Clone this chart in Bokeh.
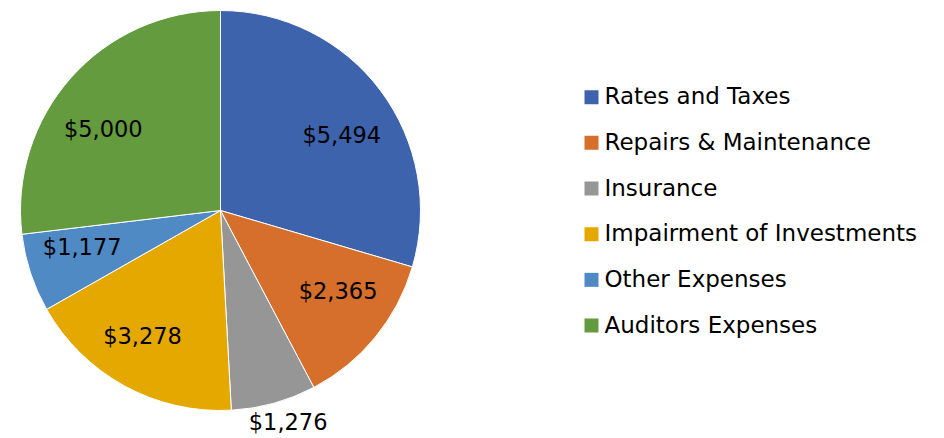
import math
from bokeh.plotting import figure
from bokeh.models import Range1d, ColumnDataSource
from bokeh.core.properties import value
from bokeh.embed import file_html
from bokeh.resources import INLINE

categories = ["Rates and Taxes", "Repairs & Maintenance", "Insurance",
              "Impairment of Investments", "Other Expenses", "Auditors Expenses"]
amounts = [5494, 2365, 1276, 3278, 1177, 5000]
labels = ["$5,494", "$2,365", "$1,276", "$3,278", "$1,177", "$5,000"]
colors = ["#3E63AD", "#D56F2B", "#969696", "#E5A800", "#4F8AC4", "#649B3E"]

# layout (image pixel coordinates, y negated)
W, H = 944, 438
CX, CY, R = 220, -210, 200
label_r = [0.712, 0.715, 1.115, 0.745, 0.716, 0.711]      # label distance / radius
label_shift = [5.2, -4.6, -2.2, 2.9, 3.2, -7.1]            # best-fit angle nudge (deg)
FONT = "DejaVu Sans"

p = figure(width=W, height=H, output_backend="svg", toolbar_location=None,
           x_range=Range1d(0, W), y_range=Range1d(-H, 0),
           min_border=0, outline_line_color=None)
p.axis.visible = False
p.grid.visible = False

total = sum(amounts)
starts, ends, lx, ly = [], [], [], []
cum = 0
for a, lr, sh in zip(amounts, label_r, label_shift):
    f0 = cum / total
    cum += a
    f1 = cum / total
    starts.append(math.pi / 2 - 2 * math.pi * f0)
    ends.append(math.pi / 2 - 2 * math.pi * f1)
    mid = (f0 + f1) / 2 * 2 * math.pi + math.radians(sh)
    lx.append(CX + lr * R * math.sin(mid))
    ly.append(CY + lr * R * math.cos(mid) + 1)

src = ColumnDataSource(dict(start=starts, end=ends, color=colors, lx=lx, ly=ly, label=labels))
p.wedge(x=CX, y=CY, radius=R, start_angle="start", end_angle="end", direction="clock",
        fill_color="color", line_color="white", line_width=1, source=src)
p.text(x="lx", y="ly", text="label", source=src, text_font=value(FONT),
       text_font_size="22.5px", text_align="center", text_baseline="middle", text_color="#000000")

# legend
LX, LY0, LDY = 591, -96.7, -45.66
leg_y = [LY0 + i * LDY for i in range(len(categories))]
lsrc = ColumnDataSource(dict(y=leg_y, ty=[v + 1 for v in leg_y], color=colors, name=categories))
p.rect(x=LX, y="y", width=14, height=14, fill_color="color", line_color=None, source=lsrc)
p.text(x=604, y="ty", text="name", source=lsrc, text_font=value(FONT),
       text_font_size="23px", text_align="left", text_baseline="middle", text_color="#000000")

open("out.html", "w").write(file_html(p, INLINE))
